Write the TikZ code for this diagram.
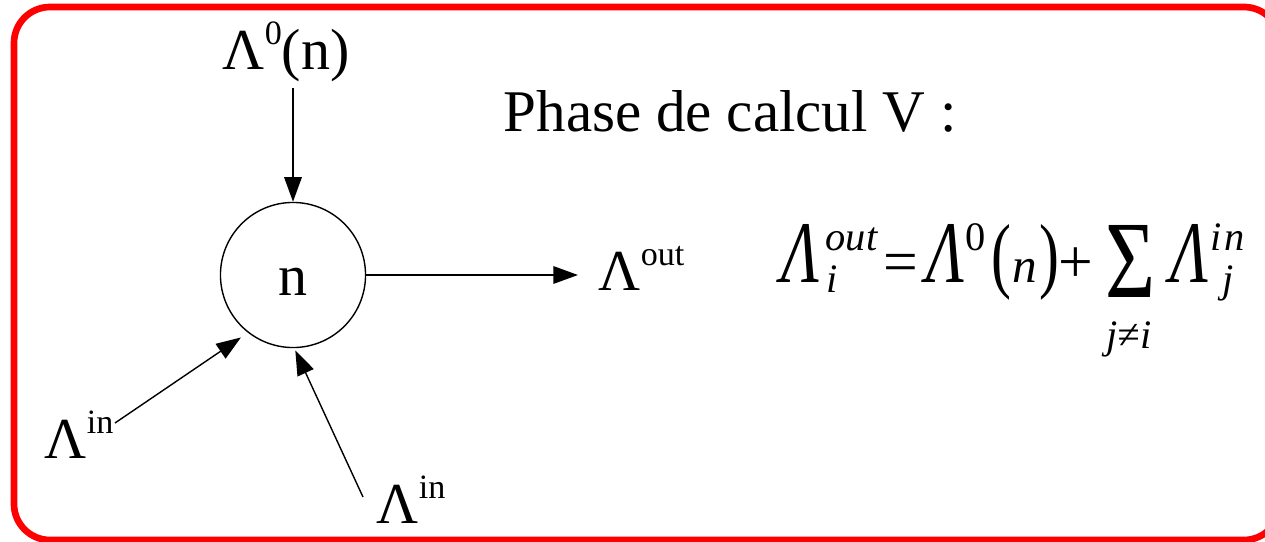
\documentclass[tikz,border=0pt]{standalone}
\usepackage{fontspec}
\usepackage{graphicx}
\setmainfont{Liberation Serif}
\usetikzlibrary{arrows.meta,calc}
\newcommand\supx[1]{\raisebox{7pt}{\fontsize{9.7}{11}\selectfont #1}}
\newcommand\bigLam{\resizebox{0.38cm}{0.58cm}{\itshape Λ}}
\newcommand\tallp[1]{\scalebox{1}[1.4]{#1}}
\newcommand\fsz{\fontsize{11.5}{13}\selectfont}
\newcommand\fup[1]{\raisebox{9.1pt}{\fsz #1}}
\newcommand\fdn[1]{\raisebox{-3.1pt}{\fsz #1}}
\begin{document}
\begin{tikzpicture}[x=0.01cm,y=-0.01cm,
  lbl/.style={inner sep=0pt, anchor=base west, font=\fontsize{16.5}{20}\selectfont},
  fm/.style={inner sep=0pt, anchor=base west, font=\fontsize{17}{20}\selectfont},
  fop/.style={inner sep=0pt, anchor=base, font=\fontsize{17.5}{20}\selectfont},
  arr/.style={-{Triangle[length=7pt,width=5pt]}, line width=0.4pt}]
\useasboundingbox (0,0) rectangle (1265,542);
\clip (0,0) rectangle (1265,542);
\draw[red, line width=1.9pt, rounded corners=0.36cm] (14,7) rectangle (1280,540);

\node[draw, circle, line width=0.4pt, minimum size=1.45cm, inner sep=0pt,
      text height=0.4cm, text depth=0pt, font=\fontsize{16.5}{20}\selectfont] (n) at (293,275) {n};

\node[lbl] (L0) at (222,69) {Λ\supx{0}(n)};
\node[lbl] (Lout) at (598,290) {Λ\supx{out}};
\node[lbl] (Lin1) at (44,458) {Λ\supx{in}};
\node[lbl] (Lin2) at (376,523) {Λ\supx{in}};
\node[lbl, font=\fontsize{16.8}{20}\selectfont] (ph) at (503,131) {Phase de calcul V :};

\draw[arr, shorten <=1.8pt] (n |- L0.south) -- (n.north);
\draw[arr, shorten >=5.7pt] (n.east) -- (n.east -| Lout.west);
\coordinate (s1) at (115,423);
\draw[arr, shorten >=2.4pt] (s1) -- (n.-128);
\coordinate (s2) at (363,497);
\draw[arr, shorten >=0.7pt] (s2) -- (n.-89);

% formula
\node[fm] (f1) at (781,282) {\bigLam\kern1.7pt\rlap{\fup{\itshape out}}\kern0.3pt\fdn{\itshape i}};
\node[fop] (feq) at (901,282) {=};
\node[fm] (f2) at (926,282) {\bigLam\kern0.3pt\fup{0}};
\node[fm] (f3) at (991,282) {\tallp{(}\kern0.3pt{\fontsize{14}{16}\selectfont\itshape n}\kern0.6pt\tallp{)}};
\node[fop] (fplus) at (1076,282) {+};
\node[fm] (fsum) at (1105,297) {\resizebox{0.5cm}{0.72cm}{Σ}};
\node[fm] (f4) at (1170,282) {\bigLam\kern0.6pt\rlap{\fup{\itshape i\kern0.6pt n}}\kern3.4pt\fdn{\itshape j}};
\node[inner sep=0pt, font=\fontsize{11.5}{13}\selectfont\itshape] (fsub) at (1129,339) {j≠i};
\end{tikzpicture}
\end{document}
